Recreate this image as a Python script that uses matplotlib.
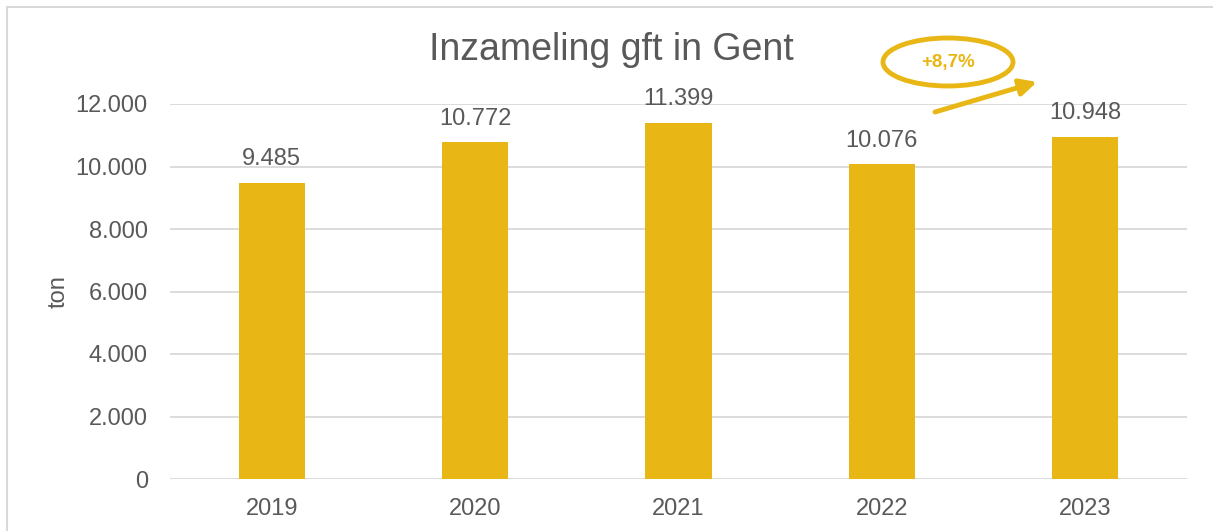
import matplotlib
matplotlib.use("Agg")
import matplotlib.pyplot as plt
from matplotlib.patches import Ellipse, FancyArrowPatch, Rectangle
from matplotlib.ticker import FuncFormatter

years = ["2019", "2020", "2021", "2022", "2023"]
values = [9485, 10772, 11399, 10076, 10948]
yticks = [0, 2000, 4000, 6000, 8000, 10000, 12000]
title = "Inzameling gft in Gent"
ylabel = "ton"
change_label = "+8,7%"

BAR = "#E8B715"
TXT = "#595959"
GRID = "#D9D9D9"

plt.rcParams["font.family"] = ["Liberation Sans", "DejaVu Sans"]

W, H = 1213, 531
fig = plt.figure(figsize=(W / 100, H / 100), dpi=100)

def fx(px):
    return px / W

def fy(py):
    return 1 - py / H

ax = fig.add_axes([fx(170), fy(479), fx(1187) - fx(170), fy(104) - fy(479)])

def nl(v):
    return f"{int(v):,}".replace(",", ".")

x = list(range(len(years)))
ax.bar(x, values, width=0.325, color=BAR, zorder=3)
ax.set_xlim(-0.5, len(years) - 0.5)
ax.set_ylim(0, 12000)
ax.set_yticks(yticks)
ax.yaxis.set_major_formatter(FuncFormatter(lambda v, p: nl(v)))
ax.set_xticks(x)
ax.set_xticklabels(years)
for s in ax.spines.values():
    s.set_visible(False)
ax.grid(axis="y", color=GRID, linewidth=1.3, zorder=0)
ax.tick_params(axis="both", length=0, labelsize=17, labelcolor=TXT)
ax.tick_params(axis="y", pad=16)
ax.tick_params(axis="x", pad=14)
ax.set_ylabel(ylabel, fontsize=17, color=TXT, labelpad=4)

for xi, v in zip(x, values):
    ax.annotate(nl(v), (xi, v), xytext=(0, 9), textcoords="offset points",
                ha="center", va="bottom", fontsize=17, color=TXT)

fig.text(fx(611), fy(50), title, ha="center", va="center", fontsize=27, color=TXT)

# frame (left and top edges visible)
fig.add_artist(Rectangle((fx(7), fy(600)), fx(1300), fy(7) - fy(600),
                         transform=fig.transFigure, fill=False,
                         edgecolor=GRID, linewidth=1.5))

# annotation ellipse and arrow
fig.add_artist(Ellipse((fx(948), fy(62)), fx(130), fy(0) - fy(48),
                       transform=fig.transFigure, fill=False,
                       edgecolor=BAR, linewidth=3.5))
fig.text(fx(948), fy(63), change_label, ha="center", va="center",
         fontsize=13.5, fontweight="bold", color=BAR)
fig.add_artist(FancyArrowPatch((fx(935), fy(112)), (fx(1037), fy(82)),
                               transform=fig.transFigure,
                               arrowstyle="-|>,head_length=10,head_width=5",
                               color=BAR, linewidth=3.5, shrinkA=0, shrinkB=0))

fig.savefig("out.png", dpi=100, facecolor="white")
